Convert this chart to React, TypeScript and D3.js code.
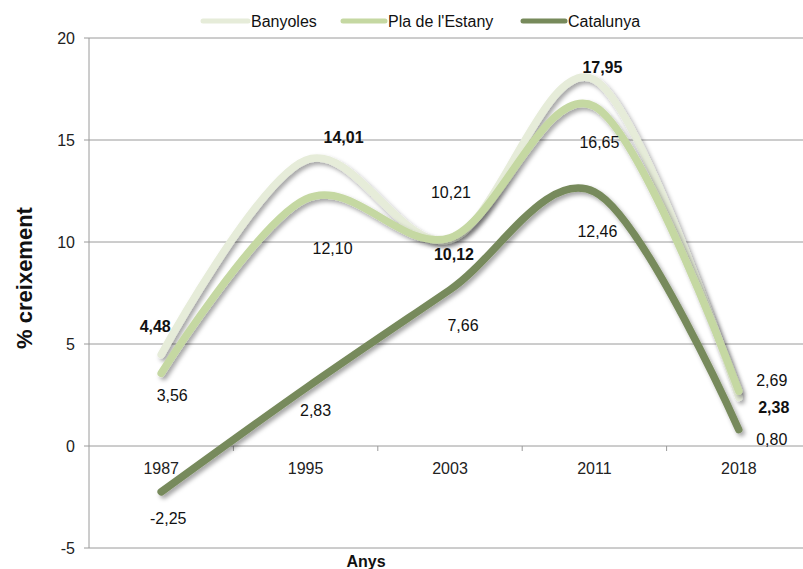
import React from "react";
import * as d3 from "d3";

const years = ["1987", "1995", "2003", "2011", "2018"];
const banyoles = [4.48, 14.01, 10.12, 17.95, 2.38];
const plaEstany = [3.56, 12.1, 10.21, 16.65, 2.69];
const catalunya = [-2.25, 2.83, 7.66, 12.46, 0.8];
const yTicks = [-5, 0, 5, 10, 15, 20];
const seriesNames = ["Banyoles", "Pla de l'Estany", "Catalunya"];

// label layout offsets (dx, dy) relative to each point
const banyolesOffsets = [[-6, -28], [38, -23], [4, 15], [8, -12], [35, 10]];
const plaOffsets = [[11, 22], [27, 49], [1, -45], [5, 36], [33, -11]];
const catOffsets = [[7, 27], [10, 22], [13, 36], [3, 40], [33, 10]];

const W = 803;
const H = 569;
const FONT = "'Liberation Sans', Arial, sans-serif";

export default function App() {
  const x = d3.scaleBand<string>().domain(years).range([89, 811]).padding(0);
  const y = d3.scaleLinear().domain([-5, 20]).range([548, 38]);
  const cx = (i: number) => (x(years[i]) as number) + x.bandwidth() / 2;

  const line = d3
    .line<number>()
    .x((_, i) => cx(i))
    .y((d) => y(d))
    .curve(d3.curveCatmullRom.alpha(0));

  const series = [
    { name: seriesNames[0], data: banyoles, color: "#e6ecd9", offsets: banyolesOffsets, bold: true },
    { name: seriesNames[1], data: plaEstany, color: "#c5d8a2", offsets: plaOffsets, bold: false },
    { name: seriesNames[2], data: catalunya, color: "#778a5b", offsets: catOffsets, bold: false },
  ];

  const fmt = (v: number) => v.toFixed(2).replace(".", ",");

  const legendItems = [
    { x1: 203, x2: 248, tx: 251 },
    { x1: 343, x2: 385, tx: 388 },
    { x1: 523, x2: 565, tx: 568 },
  ];

  const bandEdges = years.slice(1).map((yr) => x(yr) as number);

  return (
    <svg
      width={W}
      height={H}
      style={{ position: "absolute", left: 0, top: 0, background: "#fff" }}
      fontFamily={FONT}
    >
      <defs>
        <filter id="shadow" x="-20%" y="-20%" width="140%" height="140%">
          <feDropShadow dx="2.5" dy="3" stdDeviation="2" floodColor="#000" floodOpacity="0.35" />
        </filter>
      </defs>
      <rect x={0} y={0} width={W} height={H} fill="#fff" />

      {yTicks.map((t) => (
        <line key={"g" + t} x1={84} x2={811} y1={y(t)} y2={y(t)} stroke="#9a9a9a" strokeWidth={1} />
      ))}
      <line x1={89} x2={89} y1={y(20)} y2={y(-5)} stroke="#9a9a9a" strokeWidth={1} />
      {bandEdges.map((e, i) => (
        <line key={"xt" + i} x1={e} x2={e} y1={y(0)} y2={y(0) + 5} stroke="#9a9a9a" strokeWidth={1} />
      ))}

      {yTicks.map((t) => (
        <text key={"yl" + t} x={75} y={y(t)} textAnchor="end" dominantBaseline="central" fontSize={16} fill="#222">
          {t}
        </text>
      ))}
      {years.map((yr, i) => (
        <text key={"xl" + yr} x={cx(i)} y={468} textAnchor="middle" dominantBaseline="central" fontSize={16} fill="#222">
          {yr}
        </text>
      ))}

      <text
        transform={`translate(24,278) rotate(-90)`}
        textAnchor="middle"
        dominantBaseline="central"
        fontSize={22}
        fontWeight="bold"
        fill="#111"
      >
        % creixement
      </text>
      <text x={366} y={561} textAnchor="middle" dominantBaseline="central" fontSize={16} fontWeight="bold" fill="#111">
        Anys
      </text>

      {series.map((s) => (
        <path
          key={"p" + s.name}
          d={line(s.data) || ""}
          fill="none"
          stroke={s.color}
          strokeWidth={7.5}
          strokeLinecap="round"
          strokeLinejoin="round"
          filter="url(#shadow)"
        />
      ))}

      {series.map((s) =>
        s.data.map((v, i) => (
          <text
            key={"dl" + s.name + i}
            x={cx(i) + s.offsets[i][0]}
            y={y(v) + s.offsets[i][1]}
            textAnchor="middle"
            dominantBaseline="central"
            fontSize={16}
            fontWeight={s.bold ? "bold" : "normal"}
            fill="#111"
          >
            {fmt(v)}
          </text>
        ))
      )}

      {series.map((s, i) => (
        <g key={"lg" + s.name}>
          <line
            x1={legendItems[i].x1}
            x2={legendItems[i].x2}
            y1={21}
            y2={21}
            stroke={s.color}
            strokeWidth={5}
            strokeLinecap="round"
          />
          <text x={legendItems[i].tx} y={21} dominantBaseline="central" fontSize={16} fill="#111">
            {s.name}
          </text>
        </g>
      ))}
    </svg>
  );
}
